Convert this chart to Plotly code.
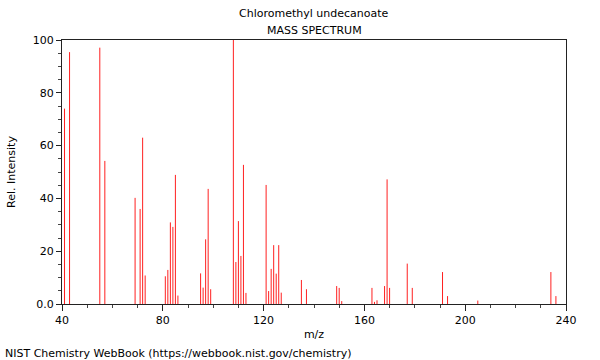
import plotly.graph_objects as go

# m/z values and relative intensities
mz = [41, 43, 55, 57, 69, 71, 72, 73, 81, 82, 83, 84, 85, 86,
      95, 96, 97, 98, 99, 108, 109, 110, 111, 112, 113,
      121, 122, 123, 124, 125, 126, 127, 135, 137,
      149, 150, 151, 163, 164, 165, 168, 169, 170, 177, 179,
      191, 193, 205, 234, 236]
intensity = [74.0, 95.4, 97.1, 54.2, 40.2, 36.0, 63.0, 10.8, 10.5, 12.9, 30.9, 29.2, 48.9, 3.2,
             11.6, 6.2, 24.5, 43.6, 5.6, 100.0, 15.9, 31.4, 18.2, 52.7, 4.2,
             45.1, 4.9, 13.3, 22.3, 11.5, 22.3, 4.3, 9.1, 5.6,
             6.8, 6.1, 1.1, 6.1, 0.8, 1.4, 6.8, 47.2, 6.1, 15.3, 6.1,
             12.1, 3.0, 1.3, 12.1, 3.0]

x_ticks = [40, 80, 120, 160, 200, 240]
y_ticks = [0, 20, 40, 60, 80, 100]
y_ticktext = ["0.0", "20", "40", "60", "80", "100"]

xs, ys = [], []
for m, v in zip(mz, intensity):
    xs += [m, m, None]
    ys += [0, v, None]

fig = go.Figure()
fig.add_trace(go.Scatter(x=xs, y=ys, mode="lines",
                         line=dict(color="#ff2020", width=1),
                         hoverinfo="skip", showlegend=False))

font = dict(family="DejaVu Sans", size=11, color="#000")

fig.update_layout(
    width=600, height=360,
    margin=dict(l=62, r=34, t=40, b=56),
    paper_bgcolor="white", plot_bgcolor="white",
    font=font,
    showlegend=False,
)
fig.update_xaxes(
    range=[40, 240], tickvals=x_ticks, ticktext=[str(t) for t in x_ticks],
    showgrid=False, zeroline=False,
    showline=True, linecolor="#222", linewidth=1, mirror=True,
    ticks="outside", ticklen=6, tickcolor="#222",
    minor=dict(dtick=10, ticks="outside", ticklen=3, tickcolor="#444", showgrid=False),
    title=dict(text="m/z", font=font, standoff=4),
)
fig.update_yaxes(
    range=[0, 100], tickvals=y_ticks, ticktext=y_ticktext,
    showgrid=False, zeroline=False,
    showline=True, linecolor="#222", linewidth=1, mirror=True,
    ticks="outside", ticklen=5, tickcolor="#222",
    minor=dict(dtick=5, ticks="outside", ticklen=3, tickcolor="#444", showgrid=False),
    title=dict(text="Rel. Intensity", font=font, standoff=14),
)

fig.add_annotation(text="Chloromethyl undecanoate", xref="paper", yref="paper",
                   x=0.5, y=1, yshift=27, showarrow=False, font=font,
                   xanchor="center", yanchor="middle")
fig.add_annotation(text="MASS SPECTRUM", xref="paper", yref="paper",
                   x=0.5, y=1, yshift=10, showarrow=False, font=font,
                   xanchor="center", yanchor="middle")
fig.add_annotation(text="NIST Chemistry WebBook (https://webbook.nist.gov/chemistry)",
                   xref="paper", yref="paper", x=0, y=0, xshift=-59, yshift=-49,
                   showarrow=False, font=font, xanchor="left", yanchor="middle")

fig.write_html("out.html", config={"displayModeBar": False},
               post_script="document.body.style.margin='0px';document.body.style.overflow='hidden';")
